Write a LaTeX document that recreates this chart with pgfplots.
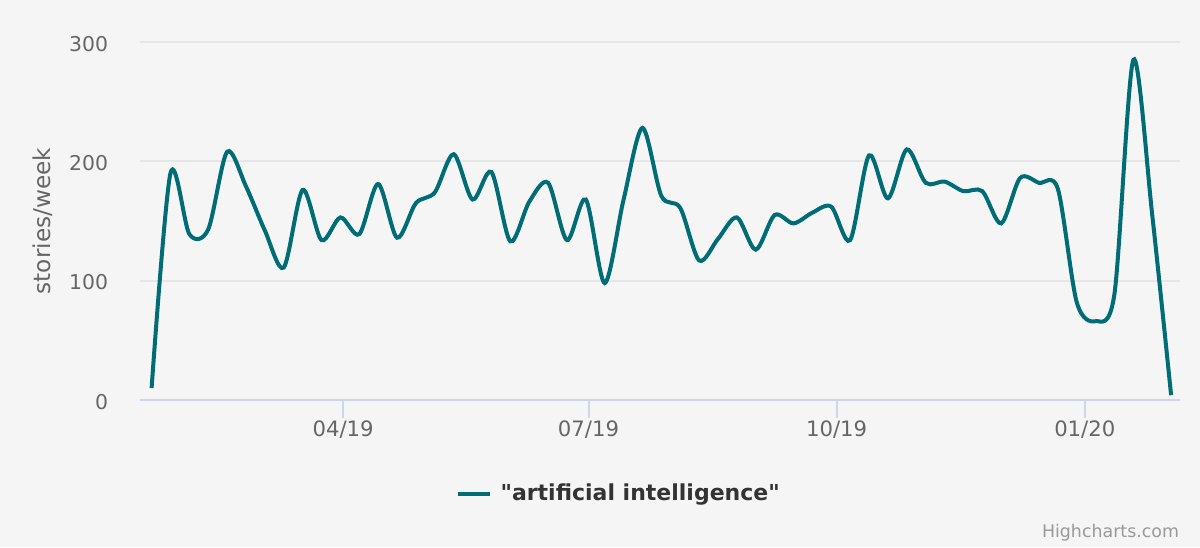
\documentclass[border=0pt]{standalone}
\usepackage{pgfplots}
\pgfplotsset{compat=1.18}
\usepackage{fontspec}
\setmainfont{DejaVu Sans}[Ligatures=TeXOff]

\definecolor{bg}{HTML}{F5F5F5}
\definecolor{gridc}{HTML}{E6E6E6}
\definecolor{axisc}{HTML}{CCD6EB}
\definecolor{series}{HTML}{006C75}
\definecolor{ticktext}{HTML}{666666}
\definecolor{legtext}{HTML}{333333}
\definecolor{credit}{HTML}{999999}

\begin{document}
\begin{tikzpicture}
\useasboundingbox (0,0) rectangle (600pt,273.5pt);
\fill[bg] (0,0) rectangle (600pt,273.5pt);
\begin{axis}[
	at = {(70pt,73.5pt)}, anchor = south west,
	scale only axis,
	width = 520pt, height = 179pt,
	xmin = 14.7, xmax = 400.3,
	ymin = 0, ymax = 300,
	clip = false,
	axis x line* = bottom, axis y line* = left,
	x axis line style = {draw=axisc, line width=1pt, -},
	y axis line style = {draw=none},
	xtick = {90, 181, 273, 365},
	xticklabels = {04/19, 07/19, 10/19, 01/20},
	ytick = {0, 100, 200, 300},
	tick align = outside,
	major tick length = 9pt,
	x tick style = {draw=axisc, line width=1pt},
	y tick style = {draw=none},
	ymajorgrids,
	grid style = {draw=gridc, line width=1pt},
	/pgf/number format/assume math mode = true,
	xticklabel style = {font=\fontsize{10.6}{12}\selectfont, text=ticktext, anchor=base, inner sep=0pt, yshift=-9.3pt},
	yticklabel style = {font=\fontsize{10.2}{12}\selectfont, text=ticktext, anchor=east, inner sep=0pt, xshift=-6.8pt, yshift=-0.9pt},
	legend style = {at={(0.3029,-0.262)}, anchor=west, draw=none, fill=none, inner sep=0pt,
		font=\fontsize{11}{13}\selectfont\bfseries, nodes={inner sep=0pt, text=legtext}},
	legend image code/.code = {\draw[series, line width=2.15pt] (0pt,0pt) -- (16pt,0pt); \path (20.5pt,0pt);}
]
% weekly counts, x = days since 1 Jan 2019
\addplot[series, line width=2pt, smooth, tension=0.5] coordinates {
	(19, 10) (26, 190) (33, 139) (40, 143) (47, 208) (54, 179) (61, 142)
	(68, 111) (75, 176) (82, 134) (89, 153) (96, 139) (103, 181) (110, 136)
	(117, 165) (124, 174) (131, 206) (138, 168) (145, 191) (152, 133) (159, 166)
	(166, 182) (173, 134) (180, 168) (187, 98) (194, 168) (201, 228) (208, 171)
	(215, 161) (222, 117) (229, 135) (236, 153) (243, 126) (250, 155) (257, 148)
	(264, 157) (271, 162) (278, 134) (285, 205) (292, 169) (299, 210) (306, 182)
	(313, 183) (320, 175) (327, 175) (334, 148) (341, 186) (348, 182) (355, 177)
	(362, 82) (369, 66) (376, 89) (383, 285) (390, 155) (397, 4)
};
\addlegendentry{"artificial intelligence"}
\end{axis}
\node[rotate=90, anchor=base, inner sep=0pt, text=ticktext, font=\fontsize{11.6}{14}\selectfont] at (25pt,163pt) {stories/week};
\node[anchor=base east, inner sep=0pt, text=credit, font=\fontsize{8.7}{10}\selectfont] at (589.7pt,4.7pt) {Highcharts.com};
\end{tikzpicture}
\end{document}
